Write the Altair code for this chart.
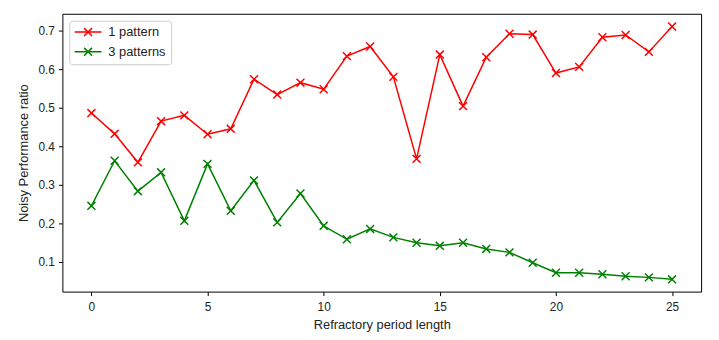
import altair as alt
import pandas as pd

period = list(range(26))
one_pattern = [0.486, 0.432, 0.358, 0.465, 0.480, 0.431, 0.445, 0.574, 0.534, 0.565,
               0.548, 0.634, 0.659, 0.580, 0.367, 0.638, 0.504, 0.631, 0.692, 0.690,
               0.590, 0.606, 0.683, 0.689, 0.645, 0.711]
three_patterns = [0.245, 0.362, 0.283, 0.332, 0.206, 0.354, 0.232, 0.311, 0.202, 0.277,
                  0.193, 0.158, 0.185, 0.163, 0.149, 0.141, 0.149, 0.133, 0.124, 0.097,
                  0.071, 0.071, 0.067, 0.062, 0.059, 0.054]
series_names = ["1 pattern", "3 patterns"]
series_colors = ["#ff0000", "#008000"]
x_ticks = [0, 5, 10, 15, 20, 25]
y_ticks = [0.1, 0.2, 0.3, 0.4, 0.5, 0.6, 0.7]

df = pd.concat([
    pd.DataFrame({"period": period, "ratio": one_pattern, "series": series_names[0]}),
    pd.DataFrame({"period": period, "ratio": three_patterns, "series": series_names[1]}),
])

FONT = "Liberation Sans"
xmark = "M-1,-1L1,1M-1,1L1,-1"
legend_sym = "M-3.4,0L3.4,0M-1,-1L1,1M-1,1L1,-1"

x = alt.X("period:Q", title="Refractory period length",
          scale=alt.Scale(domain=[-1.25, 26.25], nice=False, zero=False),
          axis=alt.Axis(values=x_ticks, format="d", grid=False, domain=False,
                        tickColor="black", tickSize=4, labelColor="#222222",
                        labelFontSize=12, titleFontSize=13, titleFontWeight="normal",
                        labelFont=FONT, titleFont=FONT, titleColor="#222222",
                        labelPadding=6, titlePadding=6))
y = alt.Y("ratio:Q", title="Noisy Performance ratio",
          scale=alt.Scale(domain=[0.022, 0.744], nice=False, zero=False),
          axis=alt.Axis(values=y_ticks, format=".1f", grid=False, domain=False,
                        tickColor="black", tickSize=4, labelColor="#222222",
                        labelFontSize=12, titleFontSize=13, titleFontWeight="normal",
                        labelFont=FONT, titleFont=FONT, titleColor="#222222",
                        labelPadding=4, titlePadding=8))
color = alt.Color("series:N", title=None,
                  scale=alt.Scale(domain=series_names, range=series_colors),
                  legend=alt.Legend(orient="none", legendX=7, legendY=7,
                                    symbolType=legend_sym, symbolSize=64,
                                    symbolStrokeWidth=1.5, symbolFillColor="transparent",
                                    symbolOffset=7.5,
                                    labelFont=FONT, labelFontSize=13, labelColor="#222222",
                                    strokeColor="#cccccc", fillColor="white",
                                    cornerRadius=3, padding=5, rowPadding=5,
                                    labelOffset=14))

base = alt.Chart(df)
lines = base.mark_line(strokeWidth=1.5).encode(x=x, y=y, color=color)
points = base.mark_point(shape=xmark, filled=False, size=64, strokeWidth=1.5,
                         opacity=1).encode(x=x, y=y, color=color)

chart = (lines + points).properties(
    width=646, height=281,
    autosize=alt.AutoSizeParams(type="none"),
    padding={"left": 55, "top": 4, "right": 10, "bottom": 40},
).configure_view(stroke="black", strokeWidth=1)

chart.save("out.html", embed_options={"renderer": "svg", "actions": False})
